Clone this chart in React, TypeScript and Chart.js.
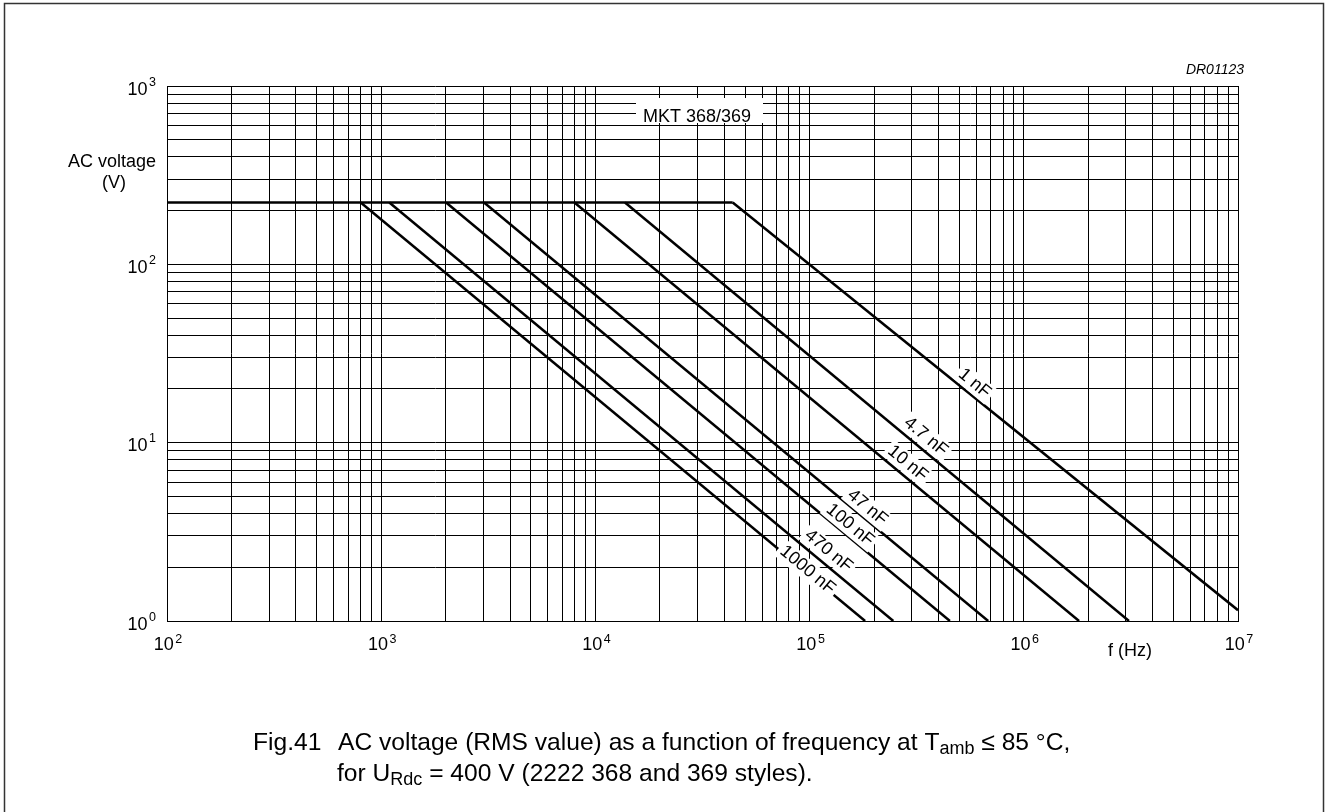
import React, { useEffect, useRef } from 'react';
import { Chart, registerables } from 'chart.js';

Chart.register(...registerables);

// ---- data ----
const flatLevel = 222; // V, upper limit (flat part)
const flatStart = 100; // Hz
const capacitances = ['1 nF', '4.7 nF', '10 nF', '47 nF', '100 nF', '470 nF', '1000 nF'];
const cornerFreqs = [43750, 13740, 7980, 3020, 2009, 1091, 802];
const endFreqs = [10000000, 3097000, 1811000, 682000, 451900, 246000, 181600];
const endVolts = [1.15, 1, 1, 1, 1, 1, 1];
const labelFreqs = [589000, 349000, 287000, 186000, 154500, 122500, 97700];
const labelVolts = [21.5, 10.8, 7.64, 4.33, 3.45, 2.47, 1.93];
const xTickExps = [2, 3, 4, 5, 6, 7];
const yTickExps = [0, 1, 2, 3];
const gridMultipliers = [1, 2, 3, 4, 5, 6, 7, 8, 9];

const FONT = "'Liberation Sans', Arial, Helvetica, sans-serif";

function gridTicks(exps: number[]) {
  const out: { value: number }[] = [];
  for (let i = 0; i < exps.length; i++) {
    const e = exps[i];
    if (i === exps.length - 1) {
      out.push({ value: Math.pow(10, e) });
    } else {
      for (const m of gridMultipliers) out.push({ value: m * Math.pow(10, e) });
    }
  }
  return out;
}

function drawPower(ctx: CanvasRenderingContext2D, exp: number, left: number, baseline: number, supRise: number) {
  ctx.font = `18px ${FONT}`;
  ctx.textAlign = 'left';
  ctx.textBaseline = 'alphabetic';
  ctx.fillText('10', left, baseline);
  const w = ctx.measureText('10').width;
  ctx.font = `12.5px ${FONT}`;
  ctx.fillText(String(exp), left + w + 1.5, baseline - supRise);
}

function powerWidth(ctx: CanvasRenderingContext2D, exp: number) {
  ctx.font = `18px ${FONT}`;
  const w = ctx.measureText('10').width;
  ctx.font = `12.5px ${FONT}`;
  return w + 1.5 + ctx.measureText(String(exp)).width;
}

function drawRich(ctx: CanvasRenderingContext2D, segs: { t: string; sub?: boolean }[], x: number, y: number) {
  ctx.textAlign = 'left';
  ctx.textBaseline = 'alphabetic';
  for (const s of segs) {
    ctx.font = s.sub ? `18px ${FONT}` : `24.6px ${FONT}`;
    ctx.fillText(s.t, x, y + (s.sub ? 4 : 0));
    x += ctx.measureText(s.t).width;
  }
}

const decorPlugin = {
  id: 'decor',
  afterDatasetsDraw(chart: any) {
    const ctx: CanvasRenderingContext2D = chart.ctx;
    const xs = chart.scales.x;
    const ys = chart.scales.y;
    ctx.save();
    // curve labels
    ctx.font = `18px ${FONT}`;
    for (let i = 0; i < capacitances.length; i++) {
      const px = xs.getPixelForValue(labelFreqs[i]);
      const py = ys.getPixelForValue(labelVolts[i]);
      const x2 = xs.getPixelForValue(labelFreqs[i] * 10);
      const y2 = ys.getPixelForValue(labelVolts[i] / 10);
      const ang = Math.atan2(y2 - py, x2 - px);
      ctx.save();
      ctx.translate(px, py);
      ctx.rotate(ang);
      const w = ctx.measureText(capacitances[i]).width;
      ctx.fillStyle = '#fff';
      ctx.fillRect(-w / 2 - 3, -10, w + 6, 20);
      ctx.fillStyle = '#000';
      ctx.textAlign = 'center';
      ctx.textBaseline = 'middle';
      ctx.fillText(capacitances[i], 0, 0);
      ctx.restore();
    }
    // MKT box
    ctx.fillStyle = '#fff';
    ctx.fillRect(636, 98, 127, 25);
    ctx.fillStyle = '#000';
    ctx.font = `18px ${FONT}`;
    ctx.textAlign = 'left';
    ctx.textBaseline = 'alphabetic';
    ctx.fillText('MKT 368/369', 643, 122);
    ctx.restore();
  },
  afterDraw(chart: any) {
    const ctx: CanvasRenderingContext2D = chart.ctx;
    const xs = chart.scales.x;
    const ys = chart.scales.y;
    ctx.save();
    ctx.fillStyle = '#000';
    // outer frame
    ctx.strokeStyle = '#333';
    ctx.lineWidth = 1.5;
    ctx.strokeRect(4.5, 3.5, 1319, 830);
    // y tick labels
    for (const e of yTickExps) {
      const py = ys.getPixelForValue(Math.pow(10, e));
      const w = powerWidth(ctx, e);
      drawPower(ctx, e, 156 - w, py + 8.5, 9);
    }
    // x tick labels
    for (const e of xTickExps) {
      const px = xs.getPixelForValue(Math.pow(10, e));
      const w = powerWidth(ctx, e);
      drawPower(ctx, e, px - w / 2 + 1, 650, 7);
    }
    // axis titles
    ctx.font = `18px ${FONT}`;
    ctx.textAlign = 'center';
    ctx.fillText('AC voltage', 112, 167);
    ctx.fillText('(V)', 114, 188);
    ctx.textAlign = 'left';
    ctx.fillText('f (Hz)', 1108, 656);
    // drawing id
    ctx.font = `italic 14px ${FONT}`;
    ctx.textAlign = 'right';
    ctx.fillText('DR01123', 1244, 74);
    // caption
    drawRich(ctx, [{ t: 'Fig.41' }], 253, 750);
    drawRich(
      ctx,
      [
        { t: 'AC voltage (RMS value) as a function of frequency at T' },
        { t: 'amb', sub: true },
        { t: ' \u2264 85 \u00B0C,' },
      ],
      338,
      750
    );
    drawRich(
      ctx,
      [{ t: 'for U' }, { t: 'Rdc', sub: true }, { t: ' = 400 V (2222 368 and 369 styles).' }],
      337,
      781
    );
    ctx.restore();
  },
};

export default function App() {
  const ref = useRef<HTMLCanvasElement | null>(null);
  useEffect(() => {
    if (!ref.current) return;
    const datasets: any[] = [
      {
        label: 'limit',
        data: [
          { x: flatStart, y: flatLevel },
          { x: cornerFreqs[0], y: flatLevel },
        ],
        borderColor: '#000',
        borderWidth: 2.6,
        pointRadius: 0,
        showLine: true,
        fill: false,
      },
    ];
    for (let i = 0; i < capacitances.length; i++) {
      datasets.push({
        label: capacitances[i],
        data: [
          { x: cornerFreqs[i], y: flatLevel },
          { x: endFreqs[i], y: endVolts[i] },
        ],
        borderColor: '#000',
        borderWidth: 2.5,
        pointRadius: 0,
        showLine: true,
        fill: false,
      });
    }
    const xGrid = gridTicks(xTickExps);
    const yGrid = gridTicks(yTickExps);
    const chart = new Chart(ref.current, {
      type: 'scatter',
      data: { datasets },
      options: {
        animation: false,
        responsive: false,
        devicePixelRatio: 1,
        layout: { padding: { left: 167, top: 86, right: 88, bottom: 191 } },
        plugins: { legend: { display: false }, tooltip: { enabled: false } },
        scales: {
          x: {
            type: 'logarithmic',
            min: 100,
            max: 10000000,
            afterBuildTicks: (s: any) => {
              s.ticks = xGrid.map((t) => ({ value: t.value }));
            },
            ticks: { display: false, autoSkip: false },
            grid: { color: '#000', lineWidth: 1, drawTicks: false },
            border: { display: true, color: '#000', width: 1 },
          },
          y: {
            type: 'logarithmic',
            min: 1,
            max: 1000,
            afterBuildTicks: (s: any) => {
              s.ticks = yGrid.map((t) => ({ value: t.value }));
            },
            ticks: { display: false, autoSkip: false },
            grid: { color: '#000', lineWidth: 1, drawTicks: false },
            border: { display: true, color: '#000', width: 1 },
          },
        },
      } as any,
      plugins: [decorPlugin],
    });
    return () => chart.destroy();
  }, []);
  return (
    <div style={{ position: 'absolute', left: 0, top: 0, width: 1326, height: 812, background: '#fff' }}>
      <canvas ref={ref} width={1326} height={812} style={{ display: 'block', width: 1326, height: 812 }} />
    </div>
  );
}
